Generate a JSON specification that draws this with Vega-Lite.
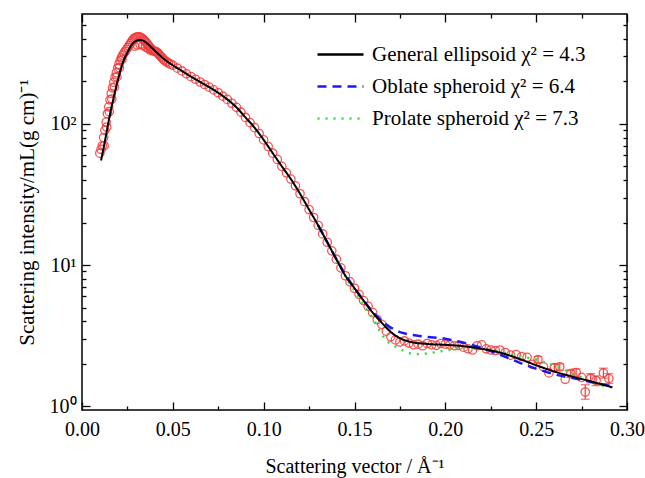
{
  "$schema": "https://vega.github.io/schema/vega-lite/v6.json",
  "autosize": "none",
  "width": 545,
  "height": 396,
  "padding": {"left": 82, "top": 14, "right": 18, "bottom": 68},
  "background": "white",
  "config": {
    "view": {"stroke": "black", "strokeWidth": 1.5},
    "scale": {"continuousPadding": 0},
    "axis": {
      "labelFont": "Liberation Serif",
      "labelFontSize": 20,
      "labelColor": "black",
      "labelFlush": false,
      "titleFont": "Liberation Serif",
      "titleFontSize": 20,
      "titleFontWeight": "normal",
      "titleColor": "black",
      "tickColor": "black",
      "tickWidth": 1.3,
      "domain": false,
      "grid": false
    },
    "legend": {
      "labelFont": "Liberation Serif",
      "labelFontSize": 21,
      "labelColor": "black",
      "labelLimit": 0
    }
  },
  "datasets": {
    "pts": [
      {"q": 0.0098, "I": 62}, {"q": 0.0105, "I": 66}, {"q": 0.0112, "I": 70}, {"q": 0.0119, "I": 80},
      {"q": 0.0126, "I": 90}, {"q": 0.0133, "I": 103}, {"q": 0.0140, "I": 118}, {"q": 0.0147, "I": 132},
      {"q": 0.0154, "I": 148}, {"q": 0.0161, "I": 164}, {"q": 0.0168, "I": 180}, {"q": 0.0175, "I": 197},
      {"q": 0.0182, "I": 214}, {"q": 0.0189, "I": 230}, {"q": 0.0196, "I": 248}, {"q": 0.0203, "I": 264},
      {"q": 0.0210, "I": 280}, {"q": 0.0217, "I": 294}, {"q": 0.0224, "I": 306}, {"q": 0.0231, "I": 317},
      {"q": 0.0238, "I": 327}, {"q": 0.0245, "I": 337}, {"q": 0.0252, "I": 347}, {"q": 0.0259, "I": 358},
      {"q": 0.0266, "I": 370}, {"q": 0.0273, "I": 382}, {"q": 0.0280, "I": 395}, {"q": 0.0287, "I": 403},
      {"q": 0.0294, "I": 408}, {"q": 0.0301, "I": 412}, {"q": 0.0308, "I": 414}, {"q": 0.0315, "I": 413},
      {"q": 0.0322, "I": 410}, {"q": 0.0329, "I": 405}, {"q": 0.0336, "I": 398}, {"q": 0.0343, "I": 390},
      {"q": 0.0350, "I": 382}, {"q": 0.0357, "I": 372}, {"q": 0.0364, "I": 362}, {"q": 0.0371, "I": 352},
      {"q": 0.0378, "I": 343}, {"q": 0.0385, "I": 336}, {"q": 0.0392, "I": 330}, {"q": 0.0399, "I": 327},
      {"q": 0.0406, "I": 325}, {"q": 0.0413, "I": 322}, {"q": 0.0420, "I": 315}, {"q": 0.0427, "I": 307},
      {"q": 0.0434, "I": 300}, {"q": 0.0441, "I": 293}, {"q": 0.0448, "I": 287}, {"q": 0.0455, "I": 281},
      {"q": 0.0465, "I": 275}, {"q": 0.0475, "I": 270}, {"q": 0.0487, "I": 265},
      {"q": 0.0122, "I": 70}, {"q": 0.0136, "I": 95}, {"q": 0.0150, "I": 122}, {"q": 0.0164, "I": 150},
      {"q": 0.0178, "I": 182}, {"q": 0.0192, "I": 215}, {"q": 0.0206, "I": 250}, {"q": 0.0220, "I": 285},
      {"q": 0.0290, "I": 355}, {"q": 0.0305, "I": 362}, {"q": 0.0320, "I": 365}, {"q": 0.0335, "I": 360},
      {"q": 0.0350, "I": 350}, {"q": 0.0365, "I": 340}, {"q": 0.0380, "I": 330},
      {"q": 0.0500, "I": 260}, {"q": 0.0525, "I": 248}, {"q": 0.0550, "I": 237}, {"q": 0.0575, "I": 226},
      {"q": 0.0600, "I": 216}, {"q": 0.0625, "I": 207}, {"q": 0.0650, "I": 198}, {"q": 0.0675, "I": 190},
      {"q": 0.0700, "I": 182}, {"q": 0.0725, "I": 174}, {"q": 0.0750, "I": 166}, {"q": 0.0775, "I": 157},
      {"q": 0.0800, "I": 149}, {"q": 0.0825, "I": 140}, {"q": 0.0850, "I": 131}, {"q": 0.0875, "I": 121},
      {"q": 0.0900, "I": 111}, {"q": 0.0925, "I": 102}, {"q": 0.0950, "I": 94}, {"q": 0.0975, "I": 85.5},
      {"q": 0.1000, "I": 77}, {"q": 0.1025, "I": 69}, {"q": 0.1050, "I": 62}, {"q": 0.1075, "I": 56},
      {"q": 0.1100, "I": 50}, {"q": 0.1125, "I": 45}, {"q": 0.1150, "I": 40.6}, {"q": 0.1175, "I": 36.4},
      {"q": 0.1200, "I": 32}, {"q": 0.1225, "I": 28.1}, {"q": 0.1250, "I": 24.7}, {"q": 0.1275, "I": 21.7},
      {"q": 0.1300, "I": 19.1}, {"q": 0.1325, "I": 16.6}, {"q": 0.1350, "I": 14.5}, {"q": 0.1375, "I": 12.6},
      {"q": 0.1400, "I": 11.0}, {"q": 0.1425, "I": 9.55}, {"q": 0.1450, "I": 8.4}, {"q": 0.1475, "I": 7.6},
      {"q": 0.1500, "I": 6.85}, {"q": 0.1525, "I": 6.2}, {"q": 0.1550, "I": 5.6}, {"q": 0.1575, "I": 5.1},
      {"q": 0.1600, "I": 4.6}, {"q": 0.1625, "I": 4.1}, {"q": 0.1650, "I": 3.8}, {"q": 0.1675, "I": 3.4},
      {"q": 0.1700, "I": 3.1}, {"q": 0.1725, "I": 2.95}, {"q": 0.1750, "I": 2.85}, {"q": 0.1775, "I": 2.9},
      {"q": 0.1800, "I": 2.8}, {"q": 0.1825, "I": 2.72}, {"q": 0.1850, "I": 2.75}, {"q": 0.1875, "I": 2.68},
      {"q": 0.1900, "I": 2.78}, {"q": 0.1925, "I": 2.72}, {"q": 0.1950, "I": 2.7}, {"q": 0.1975, "I": 2.78},
      {"q": 0.2000, "I": 2.75}, {"q": 0.2025, "I": 2.72}, {"q": 0.2050, "I": 2.68}, {"q": 0.2075, "I": 2.7},
      {"q": 0.2100, "I": 2.62}, {"q": 0.2125, "I": 2.55}, {"q": 0.2150, "I": 2.5}, {"q": 0.2175, "I": 2.68},
      {"q": 0.2200, "I": 2.72}, {"q": 0.2225, "I": 2.55}, {"q": 0.2250, "I": 2.5}, {"q": 0.2275, "I": 2.48},
      {"q": 0.2300, "I": 2.5}, {"q": 0.2330, "I": 2.4}, {"q": 0.2360, "I": 2.3}, {"q": 0.2390, "I": 2.32},
      {"q": 0.2420, "I": 2.25}, {"q": 0.2450, "I": 2.22}, {"q": 0.2480, "I": 1.98}, {"q": 0.2510, "I": 2.14, "lo": 2.04, "hi": 2.25},
      {"q": 0.2540, "I": 1.9}, {"q": 0.2570, "I": 1.72}, {"q": 0.2600, "I": 1.88, "lo": 1.78, "hi": 1.98}, {"q": 0.2630, "I": 1.9, "lo": 1.8, "hi": 2.0},
      {"q": 0.2660, "I": 1.55}, {"q": 0.2690, "I": 1.7, "lo": 1.6, "hi": 1.8}, {"q": 0.2720, "I": 1.73, "lo": 1.62, "hi": 1.84}, {"q": 0.2750, "I": 1.6},
      {"q": 0.2770, "I": 1.26, "lo": 1.12, "hi": 1.42}, {"q": 0.2800, "I": 1.58, "lo": 1.46, "hi": 1.7}, {"q": 0.2830, "I": 1.52, "lo": 1.4, "hi": 1.64},
      {"q": 0.2870, "I": 1.72, "lo": 1.58, "hi": 1.86}, {"q": 0.2900, "I": 1.57, "lo": 1.45, "hi": 1.7}
    ],
    "fits": [
      {"model": "General ellipsoid", "q": 0.0105, "I": 55}, {"model": "General ellipsoid", "q": 0.013, "I": 80},
      {"model": "General ellipsoid", "q": 0.015, "I": 110}, {"model": "General ellipsoid", "q": 0.0175, "I": 155},
      {"model": "General ellipsoid", "q": 0.020, "I": 210}, {"model": "General ellipsoid", "q": 0.0224, "I": 270},
      {"model": "General ellipsoid", "q": 0.025, "I": 320}, {"model": "General ellipsoid", "q": 0.0275, "I": 365},
      {"model": "General ellipsoid", "q": 0.030, "I": 388}, {"model": "General ellipsoid", "q": 0.032, "I": 393},
      {"model": "General ellipsoid", "q": 0.034, "I": 387}, {"model": "General ellipsoid", "q": 0.036, "I": 370},
      {"model": "General ellipsoid", "q": 0.039, "I": 340}, {"model": "General ellipsoid", "q": 0.0427, "I": 307},
      {"model": "General ellipsoid", "q": 0.046, "I": 282}, {"model": "General ellipsoid", "q": 0.050, "I": 260},
      {"model": "General ellipsoid", "q": 0.055, "I": 237}, {"model": "General ellipsoid", "q": 0.060, "I": 216},
      {"model": "General ellipsoid", "q": 0.065, "I": 198}, {"model": "General ellipsoid", "q": 0.070, "I": 182},
      {"model": "General ellipsoid", "q": 0.075, "I": 166}, {"model": "General ellipsoid", "q": 0.080, "I": 149},
      {"model": "General ellipsoid", "q": 0.085, "I": 131}, {"model": "General ellipsoid", "q": 0.090, "I": 111},
      {"model": "General ellipsoid", "q": 0.095, "I": 94}, {"model": "General ellipsoid", "q": 0.100, "I": 77},
      {"model": "General ellipsoid", "q": 0.105, "I": 62}, {"model": "General ellipsoid", "q": 0.110, "I": 50},
      {"model": "General ellipsoid", "q": 0.115, "I": 40.6}, {"model": "General ellipsoid", "q": 0.120, "I": 32},
      {"model": "General ellipsoid", "q": 0.125, "I": 24.7}, {"model": "General ellipsoid", "q": 0.130, "I": 19.1},
      {"model": "General ellipsoid", "q": 0.135, "I": 14.5}, {"model": "General ellipsoid", "q": 0.140, "I": 11.0},
      {"model": "General ellipsoid", "q": 0.145, "I": 8.4}, {"model": "General ellipsoid", "q": 0.150, "I": 6.85},
      {"model": "General ellipsoid", "q": 0.155, "I": 5.6}, {"model": "General ellipsoid", "q": 0.160, "I": 4.6},
      {"model": "General ellipsoid", "q": 0.165, "I": 3.9}, {"model": "General ellipsoid", "q": 0.170, "I": 3.35},
      {"model": "General ellipsoid", "q": 0.175, "I": 3.03}, {"model": "General ellipsoid", "q": 0.180, "I": 2.87},
      {"model": "General ellipsoid", "q": 0.190, "I": 2.76}, {"model": "General ellipsoid", "q": 0.200, "I": 2.72},
      {"model": "General ellipsoid", "q": 0.210, "I": 2.66}, {"model": "General ellipsoid", "q": 0.220, "I": 2.55},
      {"model": "General ellipsoid", "q": 0.230, "I": 2.40}, {"model": "General ellipsoid", "q": 0.240, "I": 2.18},
      {"model": "General ellipsoid", "q": 0.250, "I": 1.95}, {"model": "General ellipsoid", "q": 0.260, "I": 1.76},
      {"model": "General ellipsoid", "q": 0.270, "I": 1.62}, {"model": "General ellipsoid", "q": 0.280, "I": 1.50},
      {"model": "General ellipsoid", "q": 0.292, "I": 1.36},
      {"model": "Oblate spheroid", "q": 0.130, "I": 19.1}, {"model": "Oblate spheroid", "q": 0.135, "I": 14.5},
      {"model": "Oblate spheroid", "q": 0.140, "I": 11.0}, {"model": "Oblate spheroid", "q": 0.145, "I": 8.5},
      {"model": "Oblate spheroid", "q": 0.150, "I": 6.85}, {"model": "Oblate spheroid", "q": 0.155, "I": 5.6},
      {"model": "Oblate spheroid", "q": 0.160, "I": 4.65}, {"model": "Oblate spheroid", "q": 0.165, "I": 4.0},
      {"model": "Oblate spheroid", "q": 0.170, "I": 3.6}, {"model": "Oblate spheroid", "q": 0.175, "I": 3.35},
      {"model": "Oblate spheroid", "q": 0.180, "I": 3.22}, {"model": "Oblate spheroid", "q": 0.185, "I": 3.15},
      {"model": "Oblate spheroid", "q": 0.190, "I": 3.1}, {"model": "Oblate spheroid", "q": 0.1976, "I": 3.04},
      {"model": "Oblate spheroid", "q": 0.205, "I": 2.92}, {"model": "Oblate spheroid", "q": 0.2108, "I": 2.80},
      {"model": "Oblate spheroid", "q": 0.218, "I": 2.64}, {"model": "Oblate spheroid", "q": 0.225, "I": 2.46},
      {"model": "Oblate spheroid", "q": 0.233, "I": 2.24}, {"model": "Oblate spheroid", "q": 0.2414, "I": 2.02},
      {"model": "Oblate spheroid", "q": 0.249, "I": 1.86}, {"model": "Oblate spheroid", "q": 0.2562, "I": 1.74},
      {"model": "Oblate spheroid", "q": 0.262, "I": 1.66}, {"model": "Oblate spheroid", "q": 0.268, "I": 1.6},
      {"model": "Oblate spheroid", "q": 0.275, "I": 1.54}, {"model": "Oblate spheroid", "q": 0.2852, "I": 1.44},
      {"model": "Oblate spheroid", "q": 0.291, "I": 1.39},
      {"model": "Prolate spheroid", "q": 0.130, "I": 19.1}, {"model": "Prolate spheroid", "q": 0.135, "I": 14.5},
      {"model": "Prolate spheroid", "q": 0.140, "I": 11.0}, {"model": "Prolate spheroid", "q": 0.145, "I": 8.3},
      {"model": "Prolate spheroid", "q": 0.150, "I": 6.6}, {"model": "Prolate spheroid", "q": 0.155, "I": 5.2},
      {"model": "Prolate spheroid", "q": 0.160, "I": 4.2}, {"model": "Prolate spheroid", "q": 0.1635, "I": 3.5},
      {"model": "Prolate spheroid", "q": 0.167, "I": 2.95}, {"model": "Prolate spheroid", "q": 0.170, "I": 2.75},
      {"model": "Prolate spheroid", "q": 0.174, "I": 2.59}, {"model": "Prolate spheroid", "q": 0.1775, "I": 2.45},
      {"model": "Prolate spheroid", "q": 0.181, "I": 2.36}, {"model": "Prolate spheroid", "q": 0.186, "I": 2.33},
      {"model": "Prolate spheroid", "q": 0.192, "I": 2.38}, {"model": "Prolate spheroid", "q": 0.1965, "I": 2.44},
      {"model": "Prolate spheroid", "q": 0.2015, "I": 2.50}, {"model": "Prolate spheroid", "q": 0.2065, "I": 2.58},
      {"model": "Prolate spheroid", "q": 0.2108, "I": 2.62}, {"model": "Prolate spheroid", "q": 0.218, "I": 2.58},
      {"model": "Prolate spheroid", "q": 0.225, "I": 2.50}, {"model": "Prolate spheroid", "q": 0.238, "I": 2.31},
      {"model": "Prolate spheroid", "q": 0.2507, "I": 2.13}, {"model": "Prolate spheroid", "q": 0.2633, "I": 1.87},
      {"model": "Prolate spheroid", "q": 0.2726, "I": 1.65}, {"model": "Prolate spheroid", "q": 0.280, "I": 1.5},
      {"model": "Prolate spheroid", "q": 0.2852, "I": 1.41}, {"model": "Prolate spheroid", "q": 0.291, "I": 1.36}
    ]
  },
  "resolve": {"axis": {"x": "independent", "y": "independent"}},
  "layer": [
    {
      "data": {"name": "pts"},
      "transform": [{"filter": "isValid(datum.lo)"}],
      "mark": {"type": "rule", "color": "#f03c3c", "strokeWidth": 1.2},
      "encoding": {
        "x": {"field": "q", "type": "quantitative", "scale": {"domain": [0, 0.3], "nice": false, "zero": false, "padding": 0}, "axis": null},
        "y": {"field": "lo", "type": "quantitative", "scale": {"type": "log", "domain": [0.94, 600], "nice": false, "padding": 0}, "axis": null},
        "y2": {"field": "hi"}
      }
    },
    {
      "data": {"name": "pts"},
      "transform": [{"filter": "isValid(datum.lo)"}],
      "mark": {"type": "tick", "color": "#f03c3c", "orient": "horizontal", "size": 9, "thickness": 1.2},
      "encoding": {
        "x": {"field": "q", "type": "quantitative", "axis": null},
        "y": {"field": "hi", "type": "quantitative", "axis": null}
      }
    },
    {
      "data": {"name": "pts"},
      "transform": [{"filter": "isValid(datum.lo)"}],
      "mark": {"type": "tick", "color": "#f03c3c", "orient": "horizontal", "size": 9, "thickness": 1.2},
      "encoding": {
        "x": {"field": "q", "type": "quantitative", "axis": null},
        "y": {"field": "lo", "type": "quantitative", "axis": null}
      }
    },
    {
      "data": {"name": "pts"},
      "mark": {"type": "point", "shape": "circle", "filled": false, "color": "#f03c3c", "size": 70, "strokeWidth": 1.3, "opacity": 0.85},
      "encoding": {
        "x": {"field": "q", "type": "quantitative",
          "axis": {"orient": "bottom", "values": [0, 0.05, 0.1, 0.15, 0.2, 0.25, 0.3], "format": ".2f", "tickSize": -8, "labelPadding": 17, "title": "Scattering vector / Å⁻¹", "titlePadding": 17}},
        "y": {"field": "I", "type": "quantitative",
          "axis": {"orient": "left", "values": [1, 10, 100], "labelExpr": "datum.value == 1 ? '10⁰' : datum.value == 10 ? '10¹' : '10²'", "tickSize": -8, "labelPadding": 14, "title": "Scattering intensity/mL(g cm)⁻¹", "titleFontSize": 21, "titlePadding": 12}}
      }
    },
    {
      "data": {"name": "fits"},
      "transform": [{"filter": "datum.model == 'Prolate spheroid'"}],
      "mark": {"type": "line", "strokeWidth": 2.5},
      "encoding": {
        "x": {"field": "q", "type": "quantitative",
          "axis": {"orient": "top", "values": [0, 0.05, 0.1, 0.15, 0.2, 0.25, 0.3], "tickSize": -8, "labels": false, "title": null}},
        "y": {"field": "I", "type": "quantitative",
          "axis": {"orient": "right", "values": [1, 10, 100], "tickSize": -8, "labels": false, "title": null}},
        "color": {"field": "model", "type": "nominal",
          "scale": {"domain": ["General ellipsoid", "Oblate spheroid", "Prolate spheroid"], "range": ["#000000", "#1a1aff", "#33dd33"]},
          "legend": {"title": null, "orient": "none", "legendX": 248, "legendY": 30, "symbolType": "M-4.6,0H4.6", "symbolSize": 100, "symbolStrokeWidth": 2.5, "rowPadding": 10, "labelOffset": 21,
            "labelExpr": "datum.label == 'General ellipsoid' ? 'General ellipsoid χ² = 4.3' : datum.label == 'Oblate spheroid' ? 'Oblate spheroid  χ² = 6.4' : 'Prolate spheroid χ² = 7.3'"}},
        "strokeDash": {"field": "model", "type": "nominal",
          "scale": {"domain": ["General ellipsoid", "Oblate spheroid", "Prolate spheroid"], "range": [[1, 0], [9, 6], [2, 6]]},
          "legend": {"title": null, "orient": "none", "legendX": 248, "legendY": 30, "symbolType": "M-4.6,0H4.6", "symbolSize": 100, "symbolStrokeWidth": 2.5, "rowPadding": 10, "labelOffset": 21,
            "labelExpr": "datum.label == 'General ellipsoid' ? 'General ellipsoid χ² = 4.3' : datum.label == 'Oblate spheroid' ? 'Oblate spheroid  χ² = 6.4' : 'Prolate spheroid χ² = 7.3'"}}
      }
    },
    {
      "data": {"name": "fits"},
      "transform": [{"filter": "datum.model == 'Oblate spheroid'"}],
      "mark": {"type": "line", "strokeWidth": 2.5},
      "encoding": {
        "x": {"field": "q", "type": "quantitative",
          "axis": {"orient": "bottom", "values": [0.025, 0.075, 0.125, 0.175, 0.225, 0.275], "tickSize": -4, "labels": false, "title": null}},
        "y": {"field": "I", "type": "quantitative",
          "axis": {"orient": "left", "values": [2, 3, 4, 5, 6, 7, 8, 9, 20, 30, 40, 50, 60, 70, 80, 90, 200, 300, 400, 500], "tickSize": -4, "labels": false, "title": null}},
        "color": {"field": "model", "type": "nominal"},
        "strokeDash": {"field": "model", "type": "nominal"}
      }
    },
    {
      "data": {"name": "fits"},
      "transform": [{"filter": "datum.model == 'General ellipsoid'"}],
      "mark": {"type": "line", "strokeWidth": 2, "interpolate": "monotone"},
      "encoding": {
        "x": {"field": "q", "type": "quantitative",
          "axis": {"orient": "top", "values": [0.025, 0.075, 0.125, 0.175, 0.225, 0.275], "tickSize": -4, "labels": false, "title": null}},
        "y": {"field": "I", "type": "quantitative",
          "axis": {"orient": "right", "values": [2, 3, 4, 5, 6, 7, 8, 9, 20, 30, 40, 50, 60, 70, 80, 90, 200, 300, 400, 500], "tickSize": -4, "labels": false, "title": null}},
        "color": {"field": "model", "type": "nominal"},
        "strokeDash": {"field": "model", "type": "nominal"}
      }
    }
  ]
}
